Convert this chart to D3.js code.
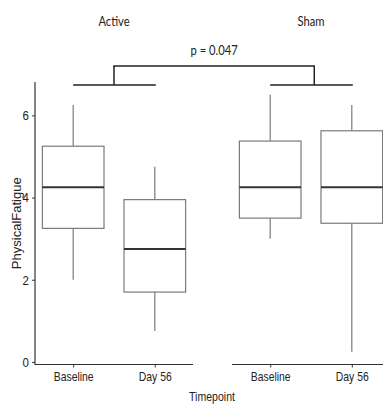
<!DOCTYPE html>
<html>
<head>
<meta charset="utf-8">
<script src="https://cdn.jsdelivr.net/npm/d3@7"></script>
<style>
  html, body { margin: 0; padding: 0; background: #fff; }
  svg { display: block; }
</style>
</head>
<body>
<svg id="chart" width="383" height="404"></svg>
<script>
// groups (facets) and timepoints
const groups = ["Active", "Sham"];
const timepoints = ["Baseline", "Day 56"];

// box stats per group, same order as timepoints: [low whisker, q1, median, q3, high whisker]
const activeStats = [
  [2.0, 3.25, 4.25, 5.25, 6.25],
  [0.75, 1.7, 2.75, 3.95, 4.75]
];
const shamStats = [
  [3.0, 3.5, 4.25, 5.375, 6.5],
  [0.25, 3.375, 4.25, 5.625, 6.25]
];
const yTicks = [0, 2, 4, 6];
const pLabel = "p = 0.047";

const svg = d3.select("#chart");
const axisCol = "#333";
const boxCol = "#7a7a7a";
const sans = "'Liberation Sans', Arial, sans-serif";
const capFont = "Lato, 'Open Sans', sans-serif";

// squeeze text horizontally to mimic the narrow faces of the original
function narrow(sel, k) {
  sel.each(function () {
    const w = this.getComputedTextLength();
    d3.select(this).attr("textLength", w * k).attr("lengthAdjust", "spacingAndGlyphs");
  });
}

const y = d3.scaleLinear().domain([-0.0625, 6.8125]).range([364.5, 82]);

const panels = [
  { name: groups[0], stats: activeStats, x0: 35, x1: 193, bracketFrac: 0.5 },
  { name: groups[1], stats: shamStats, x0: 232, x1: 390, bracketFrac: 0.54 }
];

// y axis (left panel only)
const yAxis = svg.append("g").attr("transform", "translate(35,0)")
  .call(d3.axisLeft(y).tickValues(yTicks).tickFormat(d3.format("d")).tickSize(3).tickPadding(3));
yAxis.select(".domain").remove();
yAxis.selectAll(".tick line").attr("stroke", axisCol);
yAxis.selectAll(".tick text").attr("fill", "#222").attr("font-size", 13.5).attr("font-family", sans)
  .call(narrow, 0.85);
svg.append("line").attr("x1", 35).attr("x2", 35).attr("y1", y.range()[1]).attr("y2", y.range()[0] + 0.5)
  .attr("stroke", axisCol).attr("stroke-width", 1.2);

const bracketY = y(6.74), topY = y(7.2);
const bracketMid = [];

panels.forEach(p => {
  const x = d3.scalePoint().domain(timepoints).range([p.x0, p.x1]).padding(0.468);
  const bw = x.step() * 0.755;
  const g = svg.append("g");

  // x axis
  const xa = g.append("g").attr("transform", `translate(0,${y.range()[0]})`)
    .call(d3.axisBottom(x).tickSize(3).tickPadding(4));
  xa.select(".domain").attr("stroke", axisCol).attr("stroke-width", 1.2).attr("d", `M${p.x0},0H${p.x1}`);
  xa.selectAll(".tick line").attr("stroke", axisCol);
  xa.selectAll(".tick text").attr("fill", "#222").attr("font-size", 13.5).attr("font-family", sans)
    .call(narrow, 0.77);

  // boxes
  timepoints.forEach((t, i) => {
    const [lo, q1, med, q3, hi] = p.stats[i];
    const cx = x(t);
    g.append("line").attr("x1", cx).attr("x2", cx).attr("y1", y(hi)).attr("y2", y(q3))
      .attr("stroke", boxCol).attr("stroke-width", 1.2);
    g.append("line").attr("x1", cx).attr("x2", cx).attr("y1", y(q1)).attr("y2", y(lo))
      .attr("stroke", boxCol).attr("stroke-width", 1.2);
    g.append("rect").attr("x", cx - bw / 2).attr("y", y(q3)).attr("width", bw).attr("height", y(q1) - y(q3))
      .attr("fill", "#fff").attr("stroke", boxCol).attr("stroke-width", 1.2);
    g.append("line").attr("x1", cx - bw / 2).attr("x2", cx + bw / 2).attr("y1", y(med)).attr("y2", y(med))
      .attr("stroke", "#333").attr("stroke-width", 2);
  });

  // facet label
  svg.append("text").attr("x", (p.x0 + p.x1) / 2).attr("y", 26).attr("text-anchor", "middle")
    .attr("font-family", capFont).attr("font-size", 14).attr("fill", "#222").text(p.name)
    .call(narrow, 0.8);

  // lower bracket across both timepoints
  const bx0 = x(timepoints[0]), bx1 = x(timepoints[1]);
  g.append("line").attr("x1", bx0).attr("x2", bx1 + 1).attr("y1", bracketY).attr("y2", bracketY)
    .attr("stroke", "#222").attr("stroke-width", 1.5);
  const mid = bx0 + (bx1 - bx0) * p.bracketFrac;
  bracketMid.push(mid);
  g.append("line").attr("x1", mid).attr("x2", mid).attr("y1", bracketY).attr("y2", topY)
    .attr("stroke", "#222").attr("stroke-width", 1.5);
});

// top bracket between groups
svg.append("line").attr("x1", bracketMid[0] - 0.75).attr("x2", bracketMid[1] + 0.75)
  .attr("y1", topY).attr("y2", topY).attr("stroke", "#222").attr("stroke-width", 1.5);
svg.append("text").attr("x", (bracketMid[0] + bracketMid[1]) / 2).attr("y", 55).attr("text-anchor", "middle")
  .attr("font-family", capFont).attr("font-size", 14).attr("fill", "#222").text(pLabel)
  .call(narrow, 0.8);

// axis titles
svg.append("text").attr("x", 212).attr("y", 401).attr("text-anchor", "middle")
  .attr("font-family", sans).attr("font-size", 13.5).attr("fill", "#222").text("Timepoint")
  .call(narrow, 0.78);
svg.append("text").attr("transform", `translate(21,${(y.range()[0] + y.range()[1]) / 2}) rotate(-90)`)
  .attr("text-anchor", "middle").attr("font-family", sans)
  .attr("font-size", 13).attr("fill", "#222").text("PhysicalFatigue");
</script>
</body>
</html>
